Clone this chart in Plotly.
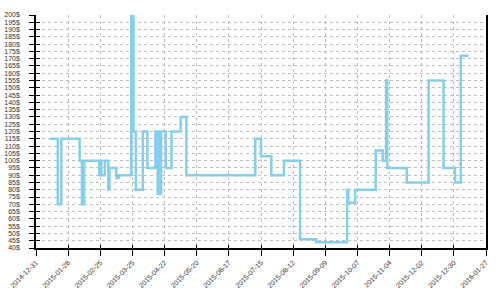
import plotly.graph_objects as go

# Price history (step changes): date of change and new price in $
dates = [
    "2015-01-12", "2015-01-19", "2015-01-22", "2015-02-07", "2015-02-09", "2015-02-11",
    "2015-02-24", "2015-02-25", "2015-02-26", "2015-03-01", "2015-03-04", "2015-03-05",
    "2015-03-11", "2015-03-13", "2015-03-24", "2015-03-26", "2015-03-28", "2015-04-03",
    "2015-04-07", "2015-04-14", "2015-04-16", "2015-04-17", "2015-04-18", "2015-04-19",
    "2015-04-23", "2015-04-28", "2015-05-06", "2015-05-11", "2015-07-10", "2015-07-15",
    "2015-07-24", "2015-08-04", "2015-08-18", "2015-09-01", "2015-09-28", "2015-09-29",
    "2015-10-05", "2015-10-23", "2015-10-29", "2015-11-01", "2015-11-02", "2015-11-19",
    "2015-12-08", "2015-12-21", "2015-12-31", "2016-01-05", "2016-01-12",
]
prices = [
    115, 70, 115, 100, 70, 100,
    90, 100, 90, 100, 80, 95,
    88, 90, 200, 120, 80, 120,
    95, 120, 77, 120, 77, 120,
    95, 120, 130, 90, 115, 103,
    90, 100, 46, 44, 80, 71,
    80, 107, 100, 155, 95, 85,
    155, 95, 85, 172, 172,
]

x_range = ["2014-12-31", "2016-01-27"]
y_range = [40, 200]
tick_start = "2014-12-31"
tick_step_days = 28

DAY_MS = 86400000
grid = dict(showgrid=True, gridcolor="#bdbdbd", griddash="3px,3px", gridwidth=1)

fig = go.Figure()
fig.add_trace(go.Scatter(
    x=dates, y=prices, mode="lines", line=dict(color="#87CEEB", width=2.5, shape="hv"),
    showlegend=False, hoverinfo="skip",
))
# dummy trace to carry the inner-tick overlay axes
fig.add_trace(go.Scatter(
    x=["2015-06-01"], y=[100], mode="lines", xaxis="x2", yaxis="y2",
    showlegend=False, hoverinfo="skip", line=dict(width=0),
))

fig.update_layout(
    width=500, height=300,
    margin=dict(l=36, r=14, t=15, b=52),
    plot_bgcolor="white", paper_bgcolor="white",
    font=dict(family="Liberation Sans, Arial, sans-serif", size=7, color="#333"),
    xaxis=dict(
        type="date", range=x_range, tickmode="linear", tick0=tick_start,
        dtick=tick_step_days * DAY_MS, tickformat="%Y-%m-%d", tickangle=-45,
        ticks="outside", ticklen=6, tickcolor="black", showline=True,
        linecolor="black", linewidth=1.5, zeroline=False, automargin=False, **grid,
    ),
    yaxis=dict(
        range=y_range, tickmode="linear", tick0=40, dtick=5, ticksuffix="$",
        ticks="outside", ticklen=5, tickcolor="black", showline=True, mirror=True,
        linecolor="black", linewidth=1.5, zeroline=False, ticklabelstandoff=8,
        automargin=False, **grid,
    ),
    xaxis2=dict(
        type="date", range=x_range, tickmode="linear", tick0=tick_start,
        dtick=tick_step_days * DAY_MS, overlaying="x", anchor="y2", side="bottom",
        ticks="inside", ticklen=3, tickcolor="black", showticklabels=False,
        showgrid=False, zeroline=False, showline=False, automargin=False,
    ),
    yaxis2=dict(
        range=y_range, tickmode="linear", tick0=40, dtick=5, overlaying="y",
        anchor="x2", side="left", ticks="inside", ticklen=4, tickcolor="black",
        showticklabels=False, showgrid=False, zeroline=False, showline=False,
        automargin=False,
    ),
)

fig.write_html("out.html")
